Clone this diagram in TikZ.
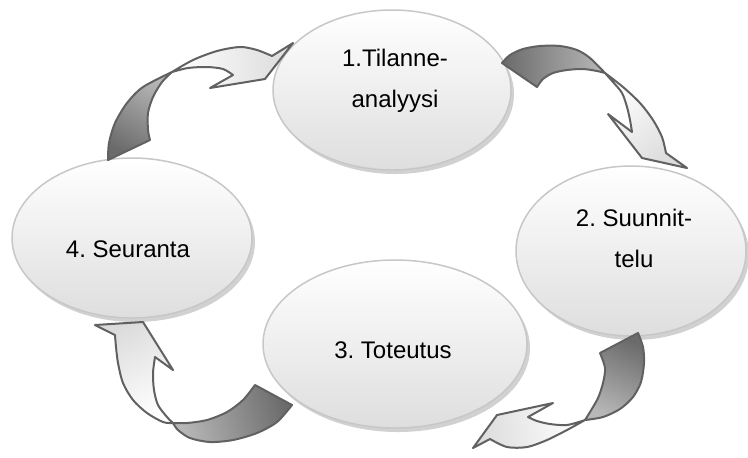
\documentclass[tikz,border=0pt]{standalone}
\usepackage{fontspec}
\setmainfont{Liberation Sans}
\usetikzlibrary{shapes.geometric,shadows}
\frenchspacing

\begin{document}
\begin{tikzpicture}[x=0.5pt,y=-0.5pt,
  phase/.style={ellipse, inner sep=0pt, draw=black!22, line width=.75pt,
    top color=white, bottom color=black!13,
    drop shadow={shadow xshift=1.5pt, shadow yshift=-2pt, opacity=.18, fill=black}},
  lbl/.style={align=center, inner sep=0pt, font=\fontsize{12}{20.5}\selectfont},
  backpart/.style={draw=black!62, line width=1pt, line join=round,
    top color=black!28, bottom color=black!58},
  frontpart/.style={draw=black!62, line width=1pt, line join=round,
    top color=white, bottom color=black!14}]
\useasboundingbox (0,0) rectangle (748,457);

% phases
\node[phase, minimum width=119pt, minimum height=80pt] (tilanne) at (392,90) {};
\node[phase, minimum width=115pt, minimum height=85pt] (suunnittelu) at (631,251) {};
\node[phase, minimum width=132pt, minimum height=84pt] (toteutus) at (395,344) {};
\node[phase, minimum width=120pt, minimum height=80pt] (seuranta) at (132,238) {};

\node[lbl] (t1) at (395,81) {1.Tilanne-\\analyysi};
\node[lbl] (t2) at (634,238) {2. Suunnit-\\telu};
\node[lbl, anchor=base] (t3) at (393,358) {3. Toteutus};
\node[lbl, anchor=base] (t4) at (128,257) {4. Seuranta};

% arrow 4 -> 1
\coordinate (x1) at (172,72);
\draw[backpart, shading angle=-29] plot[smooth] coordinates {(108,160) (109,143) (115,123) (127,103) (143,87) (x1)}
  -- plot[smooth] coordinates {(x1) (162,82) (153,97) (148,113) (148,130) (150,140)} -- cycle;
\draw[frontpart, shading angle=94] plot[smooth] coordinates {(x1) (193,60) (217,51) (240,47) (257,50) (272,56)}
  -- (293,43) -- (265,79) -- (210,88) -- (233,75)
  -- plot[smooth] coordinates {(233,75) (223,69) (207,67) (188,68) (x1)} -- cycle;

% arrow 1 -> 2
\coordinate (x2) at (605,73);
\draw[backpart, shading angle=-89] plot[smooth] coordinates {(502,63) (510,55) (523,49) (540,46) (560,46) (577,50) (590,58) (x2)}
  -- plot[smooth] coordinates {(x2) (597,71) (583,69) (567,70) (553,73) (543,79) (537,87)} -- cycle;
\draw[frontpart, shading angle=38] plot[smooth] coordinates {(x2) (623,87) (640,103) (653,120) (662,137) (666,153)}
  -- (687,168) -- (642,158) -- (608,114) -- (632,132)
  -- plot[smooth] coordinates {(632,132) (630,120) (627,107) (622,93) (613,82) (x2)} -- cycle;

% arrow 2 -> 3
\coordinate (x3) at (585,420);
\draw[backpart, shading angle=155] plot[smooth] coordinates {(638,333) (643,347) (644,363) (641,382) (633,397) (620,409) (603,417) (x3)}
  -- plot[smooth] coordinates {(x3) (590,412) (598,398) (603,383) (605,368) (600,353)} -- cycle;
\draw[frontpart, shading angle=-84] plot[smooth] coordinates {(x3) (567,430) (547,440) (527,447) (507,447) (490,439)}
  -- (473,448) -- (497,415) -- (553,403) -- (528,417)
  -- plot[smooth] coordinates {(528,417) (537,421) (550,424) (567,425) (x3)} -- cycle;

% arrow 3 -> 4
\coordinate (x4) at (173,423);
\draw[backpart, shading angle=105] plot[smooth] coordinates {(292,405) (277,422) (257,433) (233,440) (210,442) (190,438) (178,430) (x4)}
  -- plot[smooth] coordinates {(x4) (187,423) (207,420) (227,412) (243,400) (255,385)} -- cycle;
\draw[frontpart, shading angle=-151] plot[smooth] coordinates {(x4) (163,422) (147,413) (133,400) (123,383) (118,363) (116,347) (115,335)}
  -- (95,325) -- (143,322) -- (173,370) -- (155,357)
  -- plot[smooth] coordinates {(155,357) (153,373) (154,390) (158,405) (167,417) (x4)} -- cycle;
\end{tikzpicture}
\end{document}
